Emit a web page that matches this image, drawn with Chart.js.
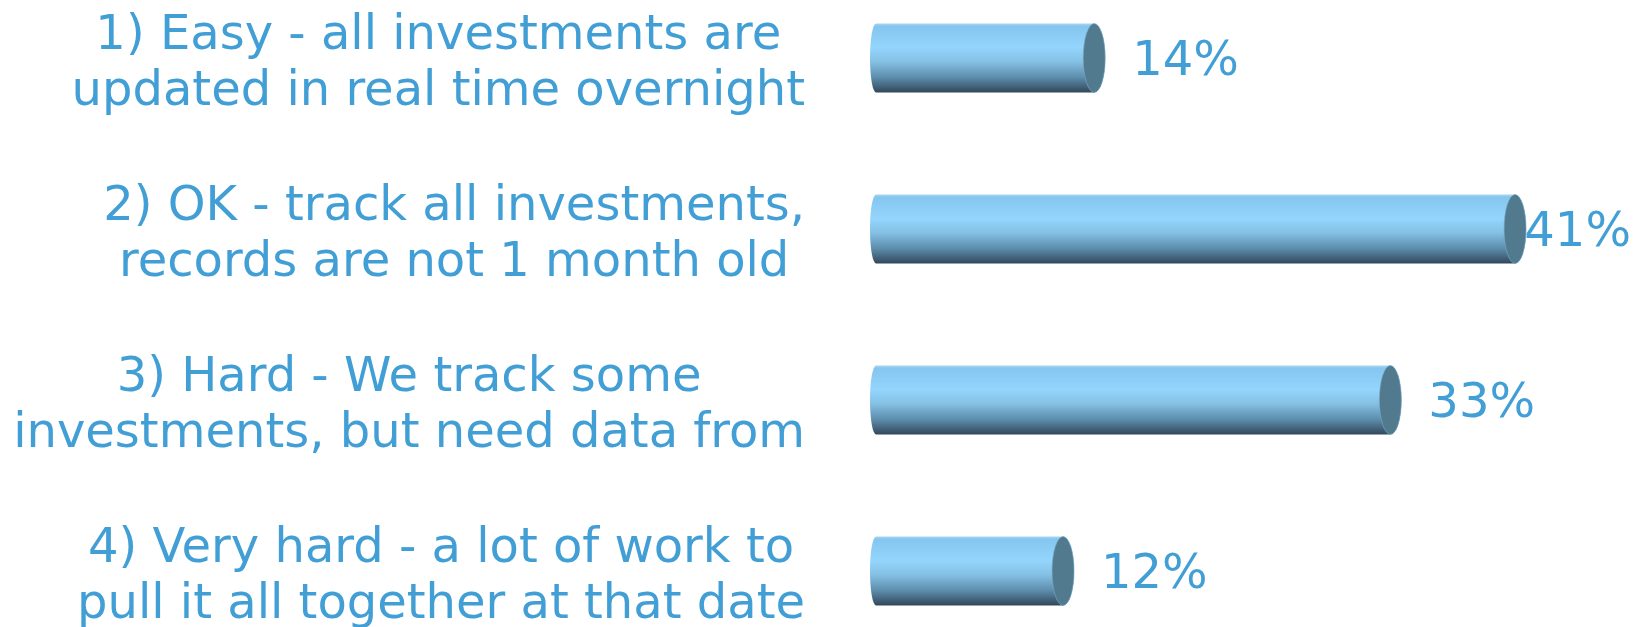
<!DOCTYPE html>
<html>
<head>
<meta charset="utf-8">
<script src="https://cdn.jsdelivr.net/npm/chart.js@4.4.1/dist/chart.umd.min.js"></script>
<style>
  html, body { margin: 0; padding: 0; background: #fff; }
  #wrap { width: 1646px; height: 627px; position: relative; }
</style>
</head>
<body>
<div id="wrap"><canvas id="chart"></canvas></div>
<script>
// Survey answers (two lines each, as on the slide)
const categories = [
    ['1) Easy - all investments are', 'updated in real time overnight'],
    ['2) OK - track all investments,', 'records are not 1 month old'],
    ['3) Hard - We track some', 'investments, but need data from'],
    ['4) Very hard - a lot of work to', 'pull it all together at that date']
];
const shares = [14, 41, 33, 12];
const shareLabels = ['14%', '41%', '33%', '12%'];

const TEXT_COLOR = '#429fd6';
const FONT = '48px "DejaVu Sans", Verdana, sans-serif';
const CAP_RX = 11;
const LEFT_RX = 6;

// cylinders: body with vertical gradient, rounded left end, flat-coloured right cap
const cylinderPlugin = {
    id: 'cylinders',
    afterDatasetsDraw(chart) {
        const ctx = chart.ctx;
        const meta = chart.getDatasetMeta(0);
        meta.data.forEach((bar, i) => {
            const { x, y, base, height } = bar.getProps(['x', 'y', 'base', 'height'], true);
            const ry = height / 2;
            const top = y - ry;
            const g = ctx.createLinearGradient(0, top, 0, top + height);
            g.addColorStop(0, '#a9d6ee');
            g.addColorStop(0.04, '#84c6ef');
            g.addColorStop(0.35, '#94d5fd');
            g.addColorStop(0.55, '#85c1e4');
            g.addColorStop(0.78, '#5d8ead');
            g.addColorStop(1, '#32475a');

            ctx.save();
            ctx.beginPath();
            ctx.moveTo(x, top);
            ctx.lineTo(base, top);
            ctx.ellipse(base, y, LEFT_RX, ry, 0, -Math.PI / 2, Math.PI / 2, true);
            ctx.lineTo(x, top + height);
            ctx.ellipse(x, y, CAP_RX, ry, 0, Math.PI / 2, -Math.PI / 2, true);
            ctx.closePath();
            ctx.fillStyle = g;
            ctx.fill();

            ctx.beginPath();
            ctx.ellipse(x, y, CAP_RX, ry, 0, 0, Math.PI * 2);
            ctx.fillStyle = '#527a8f';
            ctx.fill();
            ctx.lineWidth = 1;
            ctx.strokeStyle = 'rgba(120,170,200,0.6)';
            ctx.stroke();
            ctx.restore();

            // value label
            ctx.save();
            ctx.font = FONT;
            ctx.fillStyle = TEXT_COLOR;
            ctx.textBaseline = 'middle';
            ctx.textAlign = 'left';
            const w = ctx.measureText(shareLabels[i]).width;
            let lx = x + CAP_RX + 27;
            if (lx + w > chart.width - 15) lx = chart.width - 15 - w;
            ctx.fillText(shareLabels[i], lx, y + 5);
            ctx.restore();
        });
    }
};

// category labels: each block centred on itself, block right edge aligned
const categoryLabelPlugin = {
    id: 'categoryLabels',
    afterDraw(chart) {
        const ctx = chart.ctx;
        const yScale = chart.scales.y;
        const rightEdge = 805;
        const lineGap = 56;
        ctx.save();
        ctx.font = FONT;
        ctx.fillStyle = TEXT_COLOR;
        ctx.textBaseline = 'middle';
        ctx.textAlign = 'center';
        categories.forEach((lines, i) => {
            const cy = yScale.getPixelForValue(i);
            const maxW = Math.max(...lines.map(l => ctx.measureText(l).width));
            const cx = rightEdge - maxW / 2;
            lines.forEach((line, j) => {
                const ly = cy + (j - (lines.length - 1) / 2) * lineGap + 7;
                ctx.fillText(line, cx, ly);
            });
        });
        ctx.restore();
    }
};

new Chart(document.getElementById('chart'), {
    type: 'bar',
    data: {
        labels: categories,
        datasets: [{
            data: shares,
            backgroundColor: 'rgba(0,0,0,0)',
            borderWidth: 0,
            barThickness: 69
        }]
    },
    options: {
        indexAxis: 'y',
        responsive: true,
        maintainAspectRatio: false,
        animation: false,
        layout: { padding: { left: 876, right: 0, top: 58, bottom: 56 } },
        scales: {
            x: { display: false, min: 0, max: 49.4 },
            y: { display: false, offset: false }
        },
        plugins: {
            legend: { display: false },
            tooltip: { enabled: false }
        }
    },
    plugins: [cylinderPlugin, categoryLabelPlugin]
});
</script>
</body>
</html>
